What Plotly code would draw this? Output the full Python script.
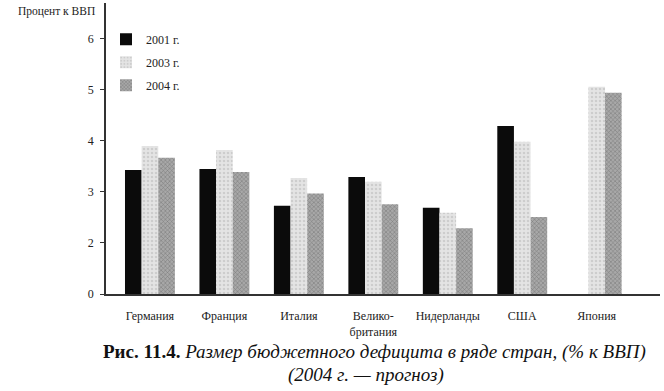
import plotly.graph_objects as go

categories = ["Германия", "Франция", "Италия", "Велико-<br>британия", "Нидерланды", "США", "Япония"]
years = ["2001 г.", "2003 г.", "2004 г."]
# values (axis shown as in the source: lowest tick labelled "0")
v2001 = [3.43, 3.45, 2.73, 3.29, 2.69, 4.29, None]
v2003 = [3.90, 3.82, 3.27, 3.20, 2.59, 3.98, 5.06]
v2004 = [3.67, 3.39, 2.97, 2.76, 2.29, 2.51, 4.94]
tick_vals = [1, 2, 3, 4, 5, 6]
tick_text = ["0", "2", "3", "4", "5", "6"]

serif = "Liberation Serif"

fig = go.Figure()
fig.add_trace(go.Bar(
    x=categories, y=v2001, name=years[0], legendgroup="a",
    marker=dict(color="#0b0b0b", line=dict(width=0)),
))
fig.add_trace(go.Bar(
    x=categories, y=v2003, name=years[1], legendgroup="b",
    marker=dict(color="#e4e4e4", line=dict(width=0),
                pattern=dict(shape=".", fgcolor="#b5b5b5", bgcolor="#e4e4e4", size=4, solidity=0.3)),
))
fig.add_trace(go.Bar(
    x=categories, y=v2004, name=years[2], legendgroup="c",
    marker=dict(color="#a0a0a0", line=dict(width=0),
                pattern=dict(shape="x", fgcolor="#505050", bgcolor="#a8a8a8", size=3, solidity=0.35)),
))

fig.update_layout(
    width=664, height=391,
    margin=dict(l=106, r=4, t=3, b=97, autoexpand=False),
    paper_bgcolor="white", plot_bgcolor="white",
    barmode="group", bargap=0.33, bargroupgap=0,
    font=dict(family=serif, size=12, color="#222"),
    showlegend=True,
    legend=dict(x=0.0, y=0.925, xanchor="left", yanchor="top",
                bgcolor="rgba(0,0,0,0)", font=dict(family=serif, size=12, color="#222"),
                traceorder="grouped", tracegroupgap=4, itemwidth=30),
    xaxis=dict(
        range=[-0.59, 6.85], showline=True, linecolor="#333", linewidth=1.5,
        showgrid=False, ticks="", tickfont=dict(family=serif, size=12, color="#222"),
        ticklabelstandoff=10, automargin=False,
    ),
    yaxis=dict(
        range=[1, 6.7], tickvals=tick_vals, ticktext=tick_text,
        showline=True, linecolor="#333", linewidth=1.5, showgrid=False, zeroline=False,
        ticks="outside", ticklen=4, tickcolor="#333", automargin=False,
        ticklabelstandoff=4,
        tickfont=dict(family=serif, size=12, color="#222"),
    ),
)

fig.add_annotation(text="Процент к ВВП", xref="paper", yref="paper",
                   x=-0.016, y=1.0, xanchor="right", yanchor="top", showarrow=False,
                   font=dict(family=serif, size=11.5, color="#222"))

fig.add_annotation(text="<b>Рис. 11.4.</b> <i>Размер бюджетного дефицита в ряде стран, (% к ВВП)</i>",
                   xref="paper", yref="paper", x=0.485, y=-0.198, xanchor="center", yanchor="middle",
                   showarrow=False, font=dict(family=serif, size=19, color="#111"))
fig.add_annotation(text="<i>(2004 г. — прогноз)</i>",
                   xref="paper", yref="paper", x=0.469, y=-0.277, xanchor="center", yanchor="middle",
                   showarrow=False, font=dict(family=serif, size=19, color="#111"))

fig.write_html("out.html", config={"displayModeBar": False},
               post_script="document.body.style.margin='0';")
